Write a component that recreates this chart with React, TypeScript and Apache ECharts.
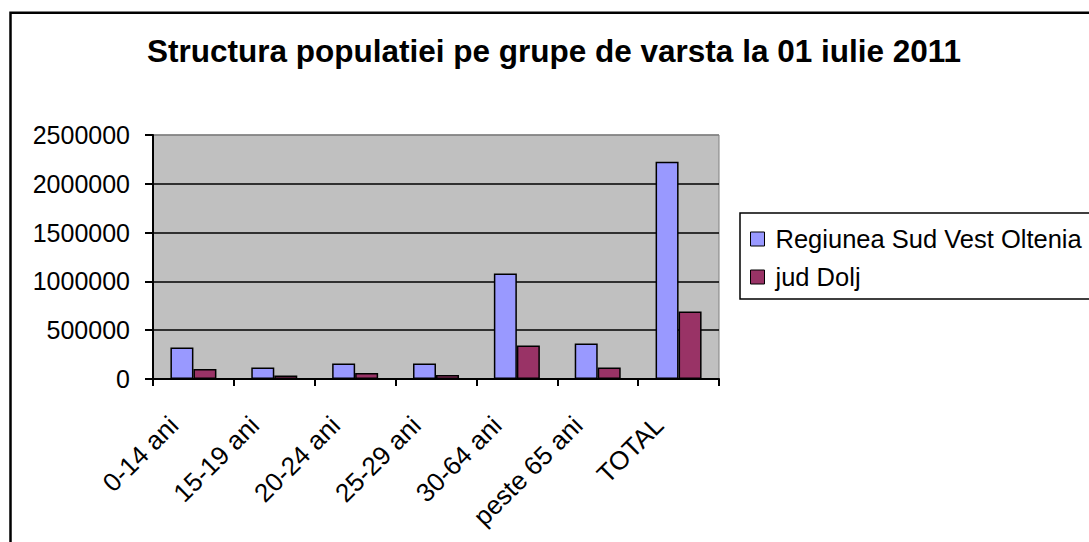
import React, { useEffect, useRef } from "react";
import * as echarts from "echarts";

const titleText = "Structura populatiei pe grupe de varsta la 01 iulie 2011";
const categories = ["0-14 ani", "15-19 ani", "20-24 ani", "25-29 ani", "30-64 ani", "peste 65 ani", "TOTAL"];
const seriesNames = ["Regiunea Sud Vest Oltenia", "jud Dolj"];
const regiuneValues = [323000, 119000, 160000, 160000, 1080000, 364000, 2225000];
const doljValues = [102000, 37000, 61000, 40000, 343000, 119000, 691000];
const yMin = 0;
const yMax = 2500000;
const yInterval = 500000;

const FONT = '"Liberation Sans", Arial, sans-serif';

export default function App() {
  const ref = useRef<HTMLDivElement>(null);
  useEffect(() => {
    if (!ref.current) return;
    const chart = echarts.init(ref.current, null, { renderer: "svg" });
    chart.setOption({
      animation: false,
      backgroundColor: "#ffffff",
      textStyle: { fontFamily: FONT, color: "#000" },
      title: {
        text: titleText,
        left: 147,
        top: 35,
        padding: 0,
        textStyle: { fontFamily: FONT, fontSize: 31.5, fontWeight: "bold", color: "#000" },
      },
      legend: {
        orient: "vertical",
        left: 750,
        top: 225,
        padding: 0,
        itemWidth: 14,
        itemHeight: 14,
        itemGap: 10,
        icon: "rect",
        itemStyle: { borderColor: "#000", borderWidth: 1 },
        textStyle: { fontFamily: FONT, fontSize: 25.5, color: "#000", lineHeight: 28, padding: [0, 0, 0, 6] },
        data: seriesNames,
      },
      grid: {
        left: 153,
        top: 135,
        width: 566,
        height: 244,
        show: true,
        backgroundColor: "#c0c0c0",
        borderColor: "#808080",
        borderWidth: 1,
      },
      xAxis: {
        type: "category",
        data: categories,
        axisLine: { show: true, lineStyle: { color: "#000", width: 2 } },
        axisTick: { show: true, length: 7, interval: 0, lineStyle: { color: "#000", width: 2 } },
        axisLabel: {
          interval: 0,
          rotate: 45,
          margin: 22,
          padding: [0, 28, 0, 0],
          fontFamily: FONT,
          fontSize: 26,
          color: "#000",
        },
      },
      yAxis: {
        type: "value",
        min: yMin,
        max: yMax,
        interval: yInterval,
        axisLine: { show: true, lineStyle: { color: "#000", width: 2 } },
        axisTick: { show: true, length: 8, lineStyle: { color: "#000", width: 2 } },
        axisLabel: {
          margin: 23,
          fontFamily: FONT,
          fontSize: 25,
          color: "#000",
          formatter: (v: number) => String(v),
        },
        splitLine: {
          show: true,
          lineStyle: { color: ["#000", "#000", "#000", "#000", "#000", "#808080"], width: 1.5 },
        },
      },
      series: [
        {
          name: seriesNames[0],
          type: "bar",
          data: regiuneValues,
          barWidth: 23,
          barGap: "0%",
          itemStyle: { color: "#9999ff", borderColor: "#000", borderWidth: 1.5 },
        },
        {
          name: seriesNames[1],
          type: "bar",
          data: doljValues,
          barWidth: 23,
          barGap: "0%",
          itemStyle: { color: "#993366", borderColor: "#000", borderWidth: 1.5 },
        },
      ],
      graphic: [
        {
          type: "rect",
          shape: { x: 10.5, y: 12.8, width: 2000, height: 2000 },
          style: { fill: "none", stroke: "#000", lineWidth: 2.5 },
          silent: true,
          z: 100,
        },
        {
          type: "rect",
          shape: { x: 740, y: 213, width: 500, height: 86 },
          style: { fill: "none", stroke: "#000", lineWidth: 1.5 },
          silent: true,
          z: 100,
        },
      ],
    });
    return () => chart.dispose();
  }, []);
  return (
    <div
      ref={ref}
      style={{ position: "absolute", left: 0, top: 0, width: 1089, height: 542 }}
    />
  );
}
